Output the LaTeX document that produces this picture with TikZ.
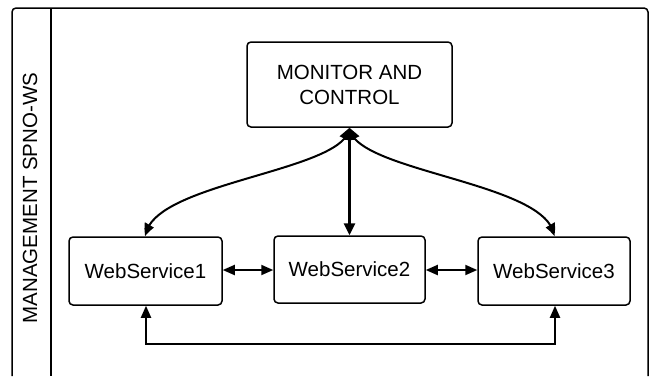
\documentclass[tikz,border=0pt]{standalone}
\usepackage{fontspec}
\setmainfont{Liberation Sans}
\usetikzlibrary{arrows.meta,bending}
\begin{document}
\begin{tikzpicture}[x=1pt,y=-1pt,
  box/.style={draw,line width=1.5pt,rounded corners=4pt,inner sep=0pt,
    font=\fontsize{20.5}{25}\selectfont,align=center},
  tip/.style={Triangle[length=12pt,width=10pt]},
  link/.style={line width=2pt,{Triangle[length=12pt,width=10pt]}-{Triangle[length=12pt,width=10pt,bend]}},
  both/.style={line width=2pt,{Triangle[length=12pt,width=10pt]}-{Triangle[length=12pt,width=10pt]}}]
\useasboundingbox (0,0) rectangle (652,376);
\fill[white] (0,0) rectangle (652,376);

% swimlane frame with title column
\draw[line width=1.5pt,rounded corners=4pt] (12,376) -- (12,8) -- (648,8) -- (648,376);
\draw[line width=1.5pt] (51,8) -- (51,376);
\node[rotate=90,font=\fontsize{20.5}{25}\selectfont] (lane) at (30,198) {MANAGEMENT SPNO-WS};

% nodes
\node[box,minimum width=205pt,minimum height=85pt] (mon) at (349.5,84.5) {MONITOR AND\\CONTROL};
\node[box,minimum width=153pt,minimum height=68pt] (ws1) at (145.5,271) {WebService1};
\node[box,minimum width=151pt,minimum height=67pt] (ws2) at (349.5,269.5) {WebService2};
\node[box,minimum width=152pt,minimum height=68pt] (ws3) at (554,271) {WebService3};

% monitor links
\draw[link] (mon.south) .. controls (346,172) and (150,182) .. (ws1.north);
\draw[link] (mon.south) .. controls (353,172) and (550,182) .. (ws3.north);
\draw[line width=2.8pt,{Triangle[length=12pt,width=11pt]}-{Triangle[length=12pt,width=11pt]}]
  (mon.south) -- (ws2.north);

% peer links
\draw[both] (ws1.east |- 0,270) -- (ws2.west |- 0,270);
\draw[both] (ws2.east |- 0,270) -- (ws3.west |- 0,270);

% lower return path
\coordinate (b1) at (146,344);
\coordinate (b3) at (555,344);
\draw[both] (ws1.south -| b1) -- (b1) -- (b3) -- (ws3.south -| b3);
\end{tikzpicture}
\end{document}
